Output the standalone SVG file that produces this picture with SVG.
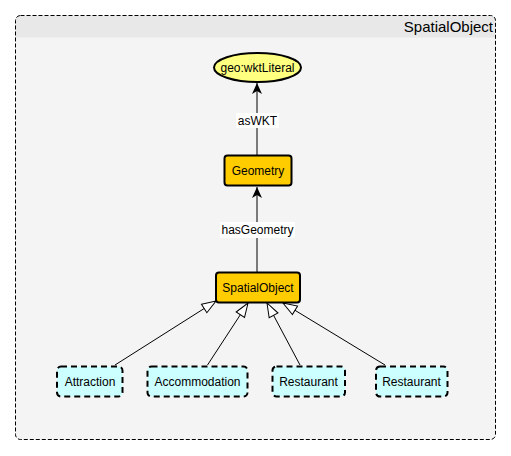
<svg xmlns="http://www.w3.org/2000/svg" width="511" height="456" viewBox="0 0 511 456">
<defs>
<style>
text{font-family:"Liberation Sans",Arial,sans-serif;font-size:12px;fill:#000;}
.c{text-anchor:middle;}
.cls{fill:#ffcc00;stroke:#000;stroke-width:2;}
.sub{fill:#ccffff;stroke:#000;stroke-width:2;stroke-dasharray:6,4;}
.edge{fill:none;stroke:#000;stroke-width:1;}
.lbl{fill:#fff;}
</style>
<marker id="arr" viewBox="0 0 12 12" refX="11" refY="6" markerWidth="12" markerHeight="12" markerUnits="userSpaceOnUse" orient="auto">
<path d="M0,1 L11,6 L0,11 L3,6 Z" fill="#000"/>
</marker>
<marker id="gen" viewBox="0 0 16 12" refX="15" refY="6" markerWidth="16" markerHeight="12" markerUnits="userSpaceOnUse" orient="auto">
<path d="M1,1 L15,6 L1,11 Z" fill="#fff" stroke="#000" stroke-width="1"/>
</marker>
</defs>
<g id="container">
<rect x="15.5" y="15.5" width="480" height="424" rx="5" fill="#f4f4f4" stroke="none"/>
<path d="M15.5,37.5 V20.5 A5,5 0 0 1 20.5,15.5 H490.5 A5,5 0 0 1 495.5,20.5 V37.5 Z" fill="#e8e8e8"/>
<rect x="15.5" y="15.5" width="480" height="424" rx="5" fill="none" stroke="#000" stroke-width="1" stroke-dasharray="4,2"/>
<text x="493" y="32" style="font-size:15px;text-anchor:end;">SpatialObject</text>
</g>
<g id="connectors">
<line class="edge" x1="257" y1="155" x2="257" y2="83" marker-end="url(#arr)"/>
<rect class="lbl" x="236" y="113" width="43" height="15"/>
<text class="c" x="257.5" y="125">asWKT</text>
<line class="edge" x1="257" y1="272" x2="257" y2="187" marker-end="url(#arr)"/>
<rect class="lbl" x="220" y="222" width="75" height="16"/>
<text class="c" x="257.5" y="234">hasGeometry</text>
<line class="edge" x1="115" y1="365" x2="216" y2="301" marker-end="url(#gen)"/>
<line class="edge" x1="207.5" y1="365" x2="248" y2="303" marker-end="url(#gen)"/>
<line class="edge" x1="300" y1="365" x2="267" y2="303" marker-end="url(#gen)"/>
<line class="edge" x1="385" y1="365" x2="283" y2="303" marker-end="url(#gen)"/>
</g>
<g id="geo-wktLiteral">
<ellipse cx="257.5" cy="67.5" rx="43.5" ry="14.5" fill="#ffff80" stroke="#000" stroke-width="2"/>
<text class="c" x="257.5" y="72">geo:wktLiteral</text>
</g>
<g id="Geometry">
<rect class="cls" x="224.5" y="155.5" width="67" height="30" rx="3"/>
<text class="c" x="258" y="175">Geometry</text>
</g>
<g id="SpatialObject">
<rect class="cls" x="216" y="272.5" width="84" height="30" rx="3"/>
<text class="c" x="258" y="292">SpatialObject</text>
</g>
<g id="Attraction">
<rect class="sub" x="57" y="366.5" width="65.5" height="30" rx="4"/>
<text class="c" x="90" y="386">Attraction</text>
</g>
<g id="Accommodation">
<rect class="sub" x="147.5" y="366.5" width="100" height="30" rx="4"/>
<text class="c" x="197.5" y="386">Accommodation</text>
</g>
<g id="Restaurant1">
<rect class="sub" x="272.5" y="366.5" width="72.5" height="30" rx="4"/>
<text class="c" x="308.5" y="386">Restaurant</text>
</g>
<g id="Restaurant2">
<rect class="sub" x="376" y="366.5" width="71.5" height="30" rx="4"/>
<text class="c" x="411.5" y="386">Restaurant</text>
</g>
</svg>
